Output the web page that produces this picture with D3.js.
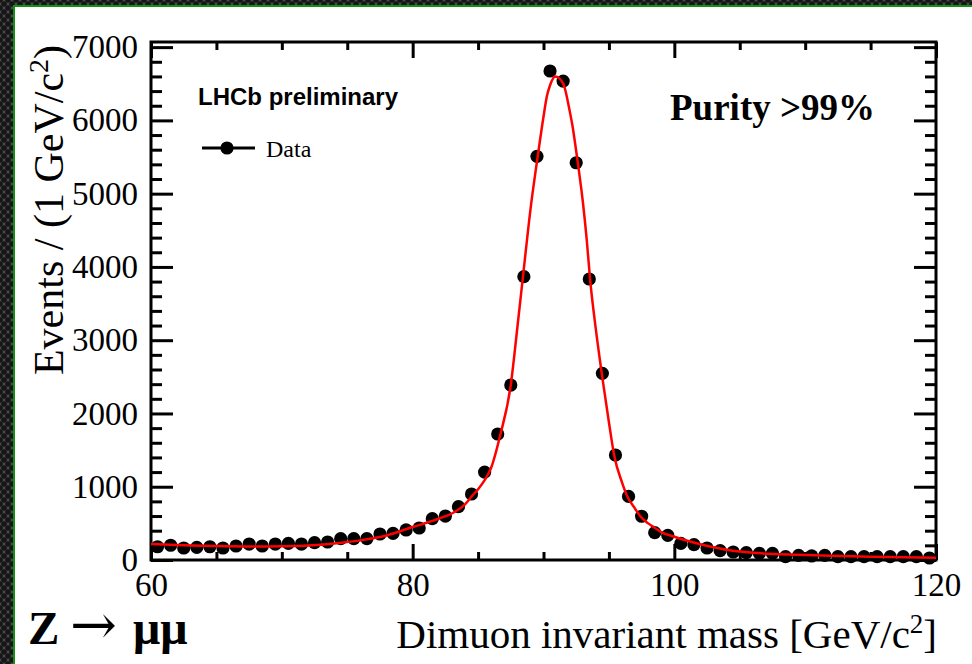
<!DOCTYPE html>
<html>
<head>
<meta charset="utf-8">
<script src="https://cdn.jsdelivr.net/npm/d3@7"></script>
<style>
  html, body { margin: 0; padding: 0; background: #2a2a2a; }
  svg { display: block; }
</style>
</head>
<body>
<svg id="chart" width="972" height="664"></svg>
<script>
// ---------------- data ----------------
const binCenters = [60.5,61.5,62.5,63.5,64.5,65.5,66.5,67.5,68.5,69.5,
  70.5,71.5,72.5,73.5,74.5,75.5,76.5,77.5,78.5,79.5,
  80.5,81.5,82.5,83.5,84.5,85.5,86.5,87.5,88.5,89.5,
  90.5,91.5,92.5,93.5,94.5,95.5,96.5,97.5,98.5,99.5,
  100.5,101.5,102.5,103.5,104.5,105.5,106.5,107.5,108.5,109.5,
  110.5,111.5,112.5,113.5,114.5,115.5,116.5,117.5,118.5,119.5];
const counts = [181,201,164,173,181,164,191,218,191,218,
  227,218,237,246,291,291,291,355,364,410,
  437,564,600,728,901,1200,1720,2388,3867,5510,
  6674,6537,5422,3835,2548,1433,868,597,373,337,
  227,209,164,127,109,100,91,91,45,64,
  55,64,45,45,45,45,45,45,45,27];

const fitMass  = [60,62,64,66,68,70,72,74,76,78,80,81,82,83,84,84.6,85,85.5,86,86.7,
  87.5,88,88.5,89,89.55,90,90.25,90.5,90.9,91.5,92,92.2,92.6,93,93.3,93.56,94,94.45,95,95.4,
  96,96.4,97,97.4,98,98.5,99,100,101,102,103,104,105,106,108,110,112,115,120];
const fitValue = [218,205,193,186,183,187,198,225,268,335,450,505,565,635,760,887,965,1090,1260,1710,
  2390,3170,3980,4780,5500,6050,6323,6480,6600,6506,6130,5940,5450,4900,4380,3835,3150,2548,1880,1430,
  1060,870,700,597,500,440,380,318,262,215,175,140,115,98,80,68,58,45,30];

const xMajor = [60,80,100,120];
const xMinor = [65,70,75,85,90,95,105,110,115];
const yMajor = [0,1000,2000,3000,4000,5000,6000,7000];
const yMinor = [200,400,600,800,1200,1400,1600,1800,2200,2400,2600,2800,3200,3400,3600,3800,
  4200,4400,4600,4800,5200,5400,5600,5800,6200,6400,6600,6800];

// ---------------- drawing ----------------
const svg = d3.select("#chart");
const defs = svg.append("defs");
const pat = defs.append("pattern").attr("id","mesh").attr("patternUnits","userSpaceOnUse")
  .attr("width",8).attr("height",8);
pat.append("rect").attr("width",8).attr("height",8).attr("fill","#4a4a4e");
[[0,0],[8,0],[0,8],[8,8],[4,4]].forEach(p =>
  pat.append("circle").attr("cx",p[0]).attr("cy",p[1]).attr("r",2.8).attr("fill","#161616"));

svg.append("rect").attr("width",972).attr("height",664).attr("fill","url(#mesh)");
svg.append("rect").attr("x",15).attr("y",7).attr("width",957).attr("height",657).attr("fill","#ffffff");
svg.append("path").attr("d","M14,664 L14,6 L972,6").attr("fill","none")
  .attr("stroke","#119011").attr("stroke-width",2);

const x = d3.scaleLinear().domain([60,120]).range([151,936]);
const y = d3.scaleLinear().domain([0,7070]).range([560,42]);

const serif = "'Liberation Serif','Times New Roman',serif";
const sans = "'Liberation Sans',Arial,sans-serif";
const fmt = d3.format("d");

function styleAxis(g, fs) {
  g.select(".domain").remove();
  g.selectAll(".tick line").attr("stroke","#000").attr("stroke-width",3);
  g.selectAll(".tick text").attr("fill","#000").style("font-family",serif).style("font-size",fs+"px");
}

// bottom
const gB1 = svg.append("g").attr("transform","translate(0,560)")
  .call(d3.axisBottom(x).tickValues(xMajor).tickFormat(fmt).tickSize(-16).tickPadding(13).tickSizeOuter(0));
styleAxis(gB1, 33);
const gB2 = svg.append("g").attr("transform","translate(0,560)")
  .call(d3.axisBottom(x).tickValues(xMinor).tickSize(-8).tickFormat("").tickSizeOuter(0));
styleAxis(gB2, 33);
// top
const gT1 = svg.append("g").attr("transform","translate(0,42)")
  .call(d3.axisTop(x).tickValues(xMajor).tickSize(-16).tickFormat("").tickSizeOuter(0));
styleAxis(gT1, 33);
const gT2 = svg.append("g").attr("transform","translate(0,42)")
  .call(d3.axisTop(x).tickValues(xMinor).tickSize(-8).tickFormat("").tickSizeOuter(0));
styleAxis(gT2, 33);
// left
const gL1 = svg.append("g").attr("transform","translate(151,0)")
  .call(d3.axisLeft(y).tickValues(yMajor).tickFormat(fmt).tickSize(-22).tickPadding(13).tickSizeOuter(0));
styleAxis(gL1, 33);
const gL2 = svg.append("g").attr("transform","translate(151,0)")
  .call(d3.axisLeft(y).tickValues(yMinor).tickSize(-11).tickFormat("").tickSizeOuter(0));
styleAxis(gL2, 33);
// right
const gR1 = svg.append("g").attr("transform","translate(936,0)")
  .call(d3.axisRight(y).tickValues(yMajor).tickSize(-22).tickFormat("").tickSizeOuter(0));
styleAxis(gR1, 33);
const gR2 = svg.append("g").attr("transform","translate(936,0)")
  .call(d3.axisRight(y).tickValues(yMinor).tickSize(-11).tickFormat("").tickSizeOuter(0));
styleAxis(gR2, 33);

// frame
svg.append("rect").attr("x",x(60)).attr("y",y.range()[1]).attr("width",x(120)-x(60))
  .attr("height",y(0)-y.range()[1]).attr("fill","none").attr("stroke","#000").attr("stroke-width",3);

// data points
svg.append("g").selectAll("circle").data(binCenters).join("circle")
  .attr("cx",d=>x(d)).attr("cy",(d,i)=>y(counts[i])).attr("r",6.6).attr("fill","#000");

// fit curve
const fitLine = d3.line().x((d,i)=>x(fitMass[i])).y((d,i)=>y(fitValue[i])).curve(d3.curveMonotoneX);
svg.append("path").datum(fitValue).attr("d",fitLine).attr("fill","none")
  .attr("stroke","#ff0000").attr("stroke-width",2.5);

// y title
const yt = svg.append("text").attr("transform","translate(63,210) rotate(-90)")
  .attr("text-anchor","middle").style("font-family",serif).style("font-size","42px").attr("fill","#000");
yt.append("tspan").text("Events / (1 GeV/c");
yt.append("tspan").attr("dy","-15").style("font-size","28px").text("2");
yt.append("tspan").attr("dy","15").text(")");

// x title
const xt = svg.append("text").attr("x",937).attr("y",648).attr("text-anchor","end")
  .style("font-family",serif).style("font-size","41px").attr("fill","#000");
xt.append("tspan").text("Dimuon invariant mass [GeV/c");
xt.append("tspan").attr("dy","-15").style("font-size","27px").text("2");
xt.append("tspan").attr("dy","15").text("]");

// Z -> mu mu
svg.append("text").attr("x",28).attr("y",644).style("font-family",serif).style("font-weight","bold")
  .style("font-size","47px").attr("fill","#000").text("Z");
svg.append("text").attr("x",70).attr("y",644).style("font-family","'DejaVu Serif',serif")
  .style("font-size","56px").attr("fill","#000").text("\u2192");
svg.append("text").attr("x",133).attr("y",644).style("font-family",serif).style("font-weight","bold")
  .style("font-size","48px").attr("fill","#000").text("\u03bc\u03bc");

// LHCb preliminary
svg.append("text").attr("x",198).attr("y",105).style("font-family",sans).style("font-weight","bold")
  .style("font-size","24px").attr("fill","#000").text("LHCb preliminary");

// legend
svg.append("line").attr("x1",202).attr("x2",255).attr("y1",148).attr("y2",148)
  .attr("stroke","#000").attr("stroke-width",3);
svg.append("circle").attr("cx",227).attr("cy",148).attr("r",6.6).attr("fill","#000");
svg.append("text").attr("x",266).attr("y",157).style("font-family",serif)
  .style("font-size","24px").attr("fill","#000").text("Data");

// Purity
svg.append("text").attr("x",670).attr("y",120).style("font-family",serif).style("font-weight","bold")
  .style("font-size","37px").attr("fill","#000").text("Purity >99%");
</script>
</body>
</html>
